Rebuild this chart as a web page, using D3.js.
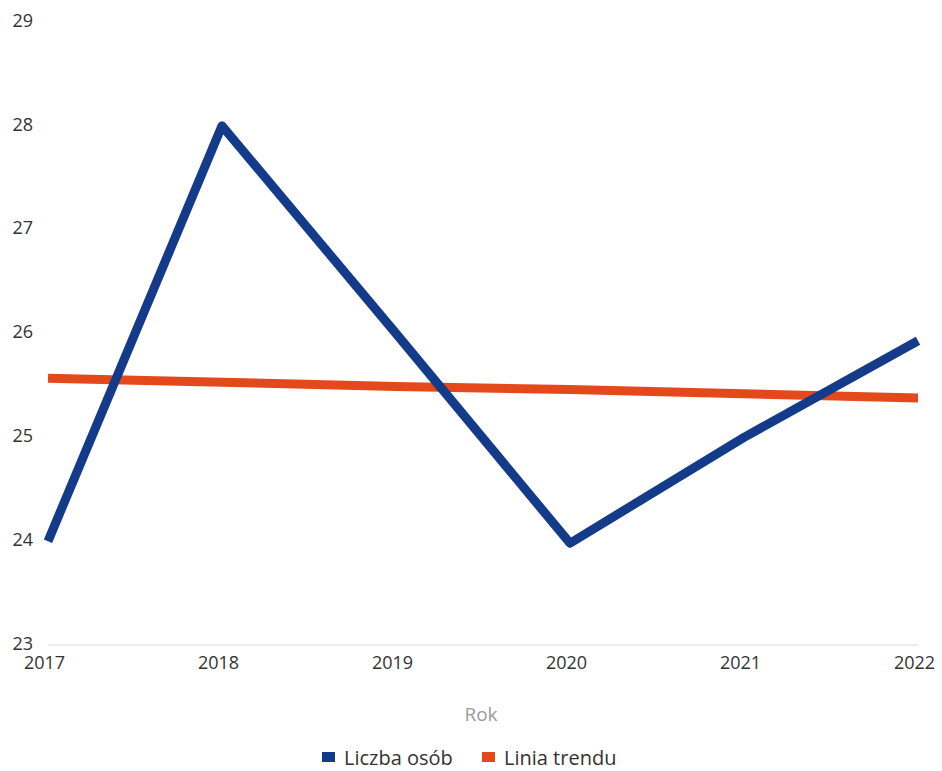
<!DOCTYPE html>
<html>
<head>
<meta charset="utf-8">
<script src="https://cdn.jsdelivr.net/npm/d3@7"></script>
<style>
  html, body { margin: 0; padding: 0; background: #fff; }
  svg { display: block; font-family: "Open Sans", "Noto Sans", sans-serif; }
</style>
</head>
<body>
<svg id="chart" width="942" height="771"></svg>
<script>
const years = ["2017", "2018", "2019", "2020", "2021", "2022"];
const liczbaOsob = [24, 28, 26, 23.98, 25, 25.93];
const liniaTrendu = [25.57, 25.53, 25.49, 25.46, 25.42, 25.38];
const yTicks = [23, 24, 25, 26, 27, 28, 29];
const seriesNames = ["Liczba osób", "Linia trendu"];
const seriesColors = ["#143a8a", "#e4491c"];
const xTitle = "Rok";

const svg = d3.select("#chart");
const x = d3.scalePoint().domain(years).range([48, 918]);
const y = d3.scaleLinear().domain([23, 29]).range([645, 22]);

// y tick labels
const yAxis = d3.axisLeft(y).tickValues(yTicks).tickSize(0).tickPadding(0).tickFormat(d3.format("d"));
const gy = svg.append("g").attr("transform", "translate(33,-2)").call(yAxis);
gy.select(".domain").remove();
gy.selectAll("text").attr("font-size", 18).attr("fill", "#333").attr("font-family", "\"Open Sans\", sans-serif").attr("dy", "0.35em");

// baseline
svg.append("line")
  .attr("x1", x(years[0])).attr("x2", x(years[years.length - 1]))
  .attr("y1", y(23)).attr("y2", y(23))
  .attr("stroke", "#d9d9d9").attr("stroke-width", 1);

// x axis labels
const xAxis = d3.axisBottom(x).tickSize(0).tickPadding(0);
const gx = svg.append("g").attr("transform", "translate(-4,656)").call(xAxis);
gx.select(".domain").remove();
gx.selectAll("text").attr("font-size", 18).attr("fill", "#333").attr("font-family", "\"Open Sans\", sans-serif");

// x title
svg.append("text").attr("x", 481).attr("y", 721).attr("text-anchor", "middle")
  .attr("font-size", 19).attr("fill", "#9a9a9a").text(xTitle);

const line = d3.line().x((d, i) => x(years[i])).y(d => y(d));

svg.append("path").datum(liniaTrendu)
  .attr("d", line).attr("fill", "none")
  .attr("stroke", seriesColors[1]).attr("stroke-width", 9);

svg.append("path").datum(liczbaOsob)
  .attr("d", line).attr("fill", "none")
  .attr("stroke", seriesColors[0]).attr("stroke-width", 9)
  .attr("stroke-linejoin", "round").attr("stroke-linecap", "butt");

// legend
const legend = svg.append("g");
const legendItems = [{x: 322}, {x: 482}];
seriesNames.forEach((n, i) => {
  const g = legend.append("g").attr("transform", `translate(${legendItems[i].x},758)`);
  g.append("rect").attr("x", 0).attr("y", -6).attr("width", 13).attr("height", 10).attr("fill", seriesColors[i]);
  g.append("text").attr("x", 22).attr("y", 0).attr("dy", "0.35em")
    .attr("font-size", 20).attr("fill", "#333").text(n);
});
</script>
</body>
</html>
